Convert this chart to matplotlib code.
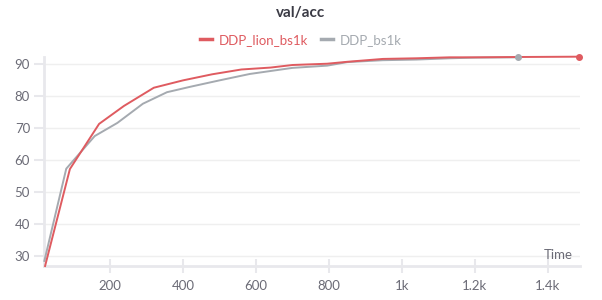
import matplotlib.pyplot as plt
from matplotlib.ticker import FuncFormatter

plt.rcParams['font.family'] = ['Lato', 'DejaVu Sans']

# val/acc over time
lion_x = [22, 90, 170, 238, 320, 400, 480, 560, 640, 700, 795, 850, 948, 1040, 1131, 1200, 1320, 1485]
lion_y = [26.9, 57.2, 71.3, 76.9, 82.6, 84.9, 86.8, 88.3, 88.9, 89.7, 90.1, 90.7, 91.6, 91.8, 92.1, 92.1, 92.2, 92.3]
base_x = [20, 80, 158, 220, 290, 356, 420, 500, 583, 700, 795, 850, 948, 1040, 1131, 1200, 1318]
base_y = [28.5, 57.3, 67.5, 71.6, 77.6, 81.2, 82.9, 84.9, 86.9, 88.8, 89.5, 90.6, 91.2, 91.4, 91.8, 92.0, 92.1]

red = '#df5b60'
gray = '#a5aab0'
tick_col = '#6b6b76'
spine_col = '#e8e8ec'

fig = plt.figure(figsize=(6.02, 3.0), dpi=100)
ax = fig.add_axes([44 / 602, 1 - 266 / 300, (580 - 44) / 602, (266 - 57) / 300])

ax.plot(base_x, base_y, color=gray, lw=1.4, label='DDP_bs1k', zorder=3, clip_on=False)
ax.plot(lion_x, lion_y, color=red, lw=1.4, label='DDP_lion_bs1k', zorder=4, clip_on=False)
ax.plot(lion_x[-1], lion_y[-1], 'o', color=red, ms=4, zorder=5, clip_on=False)
ax.plot(base_x[-1], base_y[-1], 'o', color=gray, ms=4, zorder=5, clip_on=False)

ax.set_xlim(19, 1488)
ax.set_ylim(26.9, 92.2)
ax.set_xticks([200, 400, 600, 800, 1000, 1200, 1400])
ax.xaxis.set_major_formatter(FuncFormatter(lambda v, p: f'{v / 1000:g}k' if v >= 1000 else f'{v:g}'))
ax.set_yticks([30, 40, 50, 60, 70, 80, 90])

ax.grid(axis='y', color='#efefef', lw=1)
ax.set_axisbelow(True)
for s in ['top', 'right']:
    ax.spines[s].set_visible(False)
for s in ['left', 'bottom']:
    ax.spines[s].set_color(spine_col)
    ax.spines[s].set_linewidth(2)
ax.tick_params(axis='both', colors=spine_col, labelcolor=tick_col, labelsize=9.5, width=1.5)
ax.tick_params(axis='x', direction='inout', length=10, pad=5)
ax.tick_params(axis='y', length=7, pad=3)

ax.text(0.987, 0.025, 'Time', transform=ax.transAxes, ha='right', va='bottom', color=tick_col, fontsize=9.5)

fig.text(0.5, 0.955, 'val/acc', ha='center', va='center', fontsize=11, fontweight='bold', color='#3b3b45')
h, l = ax.get_legend_handles_labels()
leg = fig.legend(h[::-1], l[::-1], loc='center', bbox_to_anchor=(0.5, 0.868), ncol=2, frameon=False,
                 fontsize=9.5, handlelength=0.9, handletextpad=0.5, columnspacing=1.0)
for t, c in zip(leg.get_texts(), [red, gray]):
    t.set_color(c)
for line in leg.get_lines():
    line.set_linewidth(2.5)

fig.savefig('out.png', dpi=100)
